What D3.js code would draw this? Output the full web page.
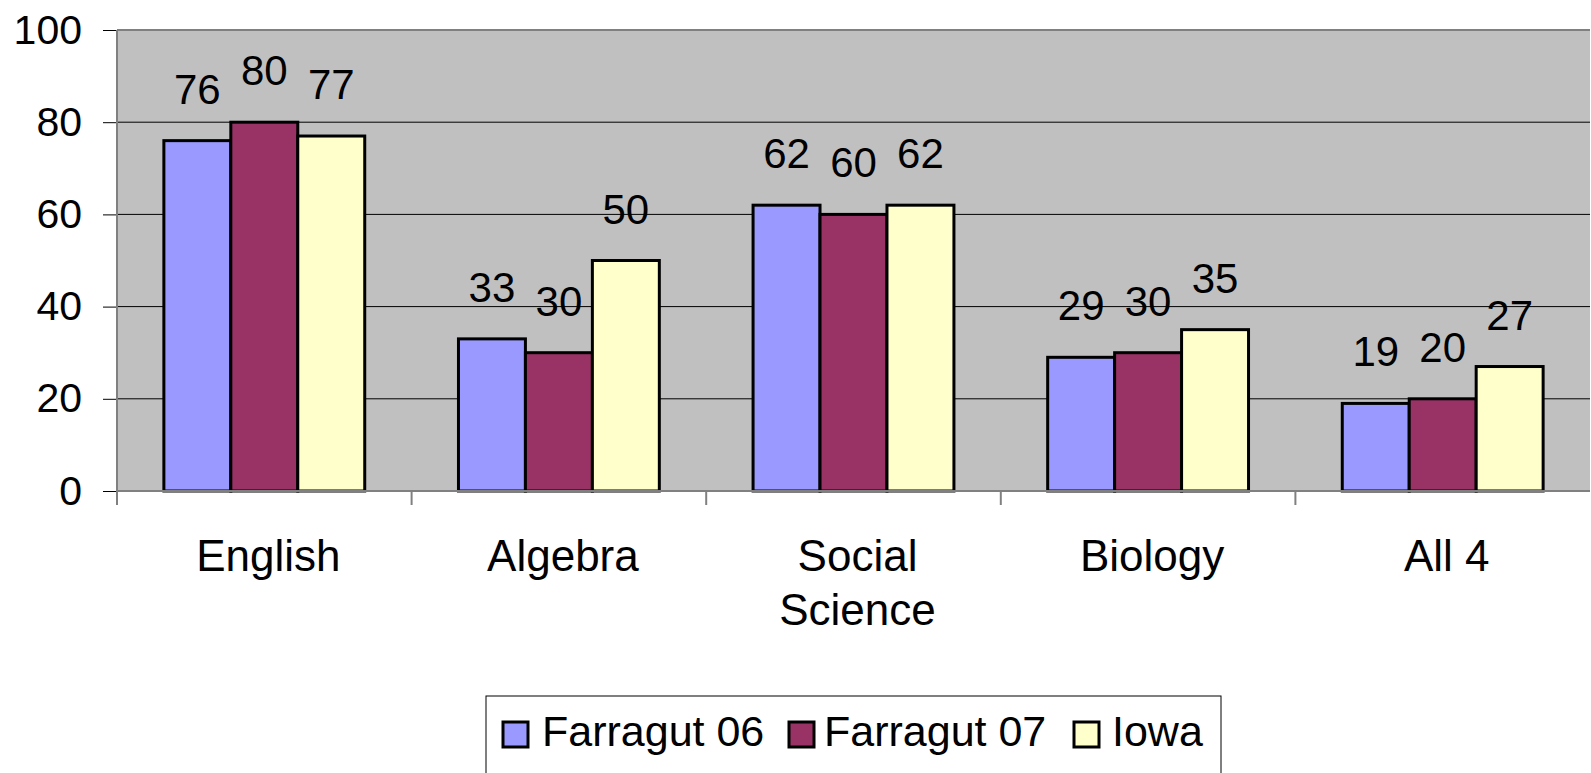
<!DOCTYPE html>
<html>
<head>
<meta charset="utf-8">
<script src="https://cdn.jsdelivr.net/npm/d3@7"></script>
<style>
  body { margin: 0; background: #fff; }
  svg { display: block; font-family: "Liberation Sans", Arial, sans-serif; }
</style>
</head>
<body>
<div id="chart"></div>
<script>
// data
const categories = ["English", "Algebra", "Social Science", "Biology", "All 4"];
const seriesNames = ["Farragut 06", "Farragut 07", "Iowa"];
const farragut06 = [76, 33, 62, 29, 19];
const farragut07 = [80, 30, 60, 30, 20];
const iowa = [77, 50, 62, 35, 27];
const yTicks = [0, 20, 40, 60, 80, 100];
const colors = ["#9999ff", "#993366", "#ffffcc"];

const allSeries = [farragut06, farragut07, iowa];

// dimensions
const width = 1591, height = 773;
const plotLeft = 117, plotRight = 1590, plotTop = 30, plotBottom = 491;

const svg = d3.select("#chart")
  .append("svg")
  .attr("width", width)
  .attr("height", height);

// scales
const x = d3.scaleBand()
  .domain(categories)
  .range([plotLeft, plotRight]);

const xInner = d3.scaleBand()
  .domain(seriesNames)
  .range([0, x.bandwidth()])
  .paddingOuter(0.7)
  .paddingInner(0);

const y = d3.scaleLinear()
  .domain([0, 100])
  .range([plotBottom, plotTop]);

// plot background
svg.append("rect")
  .attr("x", plotLeft).attr("y", plotTop)
  .attr("width", plotRight - plotLeft).attr("height", plotBottom - plotTop)
  .attr("fill", "#c0c0c0");

// gridlines
svg.append("g")
  .selectAll("line")
  .data(yTicks.filter(d => d > 0 && d < 100))
  .enter()
  .append("line")
  .attr("x1", plotLeft).attr("x2", plotRight)
  .attr("y1", d => y(d)).attr("y2", d => y(d))
  .attr("stroke", "#000")
  .attr("stroke-width", 1);

// plot border top
svg.append("line")
  .attr("x1", plotLeft).attr("x2", plotRight)
  .attr("y1", plotTop).attr("y2", plotTop)
  .attr("stroke", "#808080").attr("stroke-width", 2);

// bars + value labels
categories.forEach((c, i) => {
  seriesNames.forEach((s, j) => {
    const v = allSeries[j][i];
    svg.append("rect")
      .attr("x", x(c) + xInner(s))
      .attr("y", y(v))
      .attr("width", xInner.bandwidth())
      .attr("height", y(0) - y(v))
      .attr("fill", colors[j])
      .attr("stroke", "#000")
      .attr("stroke-width", 3);
    svg.append("text")
      .attr("x", x(c) + xInner(s) + xInner.bandwidth() / 2)
      .attr("y", y(v) - 37)
      .attr("text-anchor", "middle")
      .style("font-size", "42px")
      .text(v);
  });
});

// y axis
const yAxis = svg.append("g")
  .attr("transform", "translate(" + plotLeft + ",0)")
  .call(d3.axisLeft(y).tickValues(yTicks).tickSize(14).tickPadding(21));
yAxis.select(".domain").remove();
yAxis.selectAll("text")
  .style("font-size", "41px")
  .style("font-family", "Liberation Sans, Arial, sans-serif")
  .attr("fill", "#000");
yAxis.selectAll("line").attr("stroke", "#000");

svg.append("line")
  .attr("x1", plotLeft).attr("x2", plotLeft)
  .attr("y1", plotTop).attr("y2", plotBottom + 14)
  .attr("stroke", "#808080").attr("stroke-width", 2);

// x axis
svg.append("line")
  .attr("x1", plotLeft).attr("x2", plotRight)
  .attr("y1", plotBottom).attr("y2", plotBottom)
  .attr("stroke", "#808080").attr("stroke-width", 2);

svg.append("g")
  .selectAll("line")
  .data(categories)
  .enter()
  .append("line")
  .attr("x1", d => x(d)).attr("x2", d => x(d))
  .attr("y1", plotBottom).attr("y2", plotBottom + 14)
  .attr("stroke", "#808080").attr("stroke-width", 2);

// category labels (Social Science wraps onto two lines)
svg.append("g")
  .selectAll("text")
  .data(categories)
  .enter()
  .append("text")
  .attr("y", 571)
  .attr("text-anchor", "middle")
  .style("font-size", "44px")
  .each(function(d) {
    const parts = d === "Social Science" ? d.split(" ") : [d];
    const t = d3.select(this);
    parts.forEach((p, k) => {
      t.append("tspan")
        .attr("x", x(d) + x.bandwidth() / 2 + 4)
        .attr("dy", k === 0 ? 0 : 54)
        .text(p);
    });
  });

// legend
svg.append("rect")
  .attr("x", 486).attr("y", 696)
  .attr("width", 735).attr("height", 100)
  .attr("fill", "#fff")
  .attr("stroke", "#000").attr("stroke-width", 1);

const legendSwatchX = [503, 789, 1074];
const legendTextX = [542, 824, 1112];
seriesNames.forEach((s, j) => {
  svg.append("rect")
    .attr("x", legendSwatchX[j]).attr("y", 722)
    .attr("width", 25).attr("height", 25)
    .attr("fill", colors[j])
    .attr("stroke", "#000").attr("stroke-width", 3);
  svg.append("text")
    .attr("x", legendTextX[j])
    .attr("y", 746)
    .style("font-size", "43px")
    .text(s);
});
</script>
</body>
</html>
